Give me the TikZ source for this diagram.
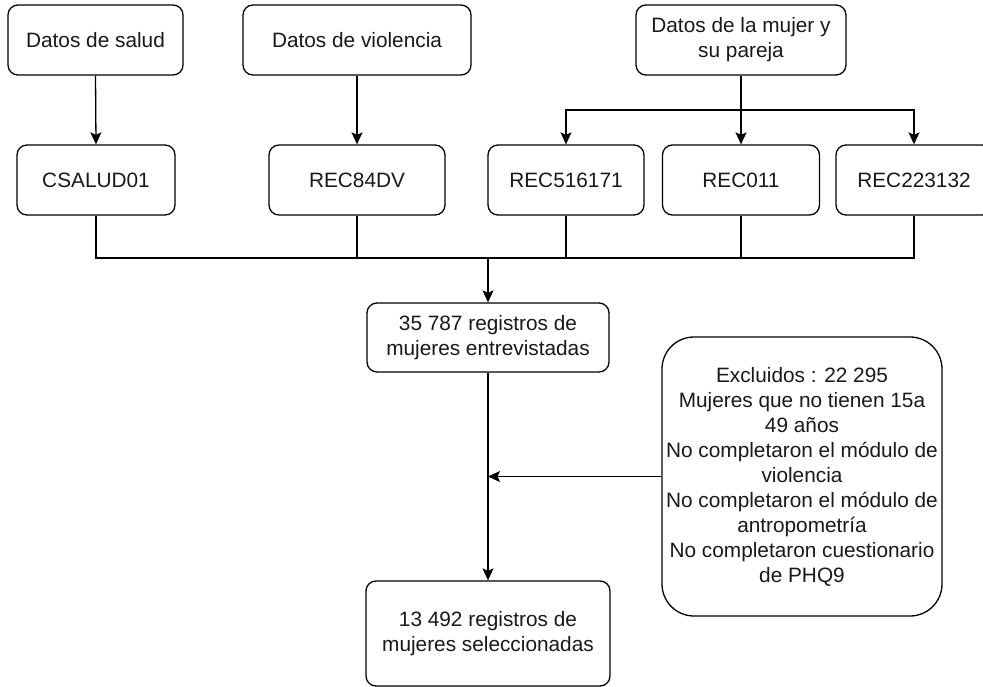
\documentclass[tikz,border=0pt]{standalone}
\usepackage{fontspec}
\setmainfont{Liberation Sans}
\usetikzlibrary{arrows.meta}
\begin{document}
\begin{tikzpicture}[x=1pt,y=-1pt,
  box/.style={draw=black, line width=1.3pt, rounded corners=10pt, align=center,
    inner sep=0pt, font=\fontsize{20.8}{25}\selectfont, text=black!90},
  bigbox/.style={box, rounded corners=32pt},
  link/.style={draw=black, line width=1.3pt},
  arr/.style={link, -{Stealth[length=12pt,width=11pt,inset=2.5pt]}}]
\useasboundingbox (0,0) rectangle (983,687);
\clip (0,0) rectangle (983,687);
\fill[white] (0,0) rectangle (983,687);
% top row
\node[box, minimum width=175pt, minimum height=70pt] (salud) at (95.5,40) {Datos de salud};
\node[box, minimum width=228pt, minimum height=70pt] (viol) at (357,40) {Datos de violencia};
\node[box, minimum width=210pt, minimum height=70pt] (mujer) at (741,40) {Datos de la mujer y\\su pareja};
% second row
\node[box, minimum width=158pt, minimum height=70pt] (csalud) at (96,180) {CSALUD01};
\node[box, minimum width=176pt, minimum height=70pt] (rec84) at (357,180) {REC84DV};
\node[box, minimum width=156pt, minimum height=70pt] (rec516) at (566,180) {REC516171};
\node[box, minimum width=157pt, minimum height=70pt] (rec011) at (741,180) {REC011};
\node[box, minimum width=156pt, minimum height=70pt] (rec223) at (914,180) {REC223132};
% lower boxes
\node[box, minimum width=242pt, minimum height=69pt] (reg35) at (488,337.5) {35 787 registros de\\mujeres entrevistadas};
\node[box, minimum width=244pt, minimum height=105pt] (reg13) at (488,633.5) {13 492 registros de\\mujeres seleccionadas};
\node[bigbox, minimum width=280pt, minimum height=279pt] (excl) at (802,476.5)
  {Excluidos : 22 295\\Mujeres que no tienen 15a\\49 años\\No completaron el módulo de\\violencia\\No completaron el módulo de\\antropometría\\No completaron cuestionario\\de PHQ9};
% connectors top
\draw[arr] (salud.south) -- (csalud.north);
\draw[arr] (viol.south) -- (rec84.north);
\coordinate (m) at (741,110);
\draw[arr] (mujer.south) -- (rec011.north);
\draw[arr] (m) -| (rec516.north);
\draw[arr] (m) -| (rec223.north);
% merge
\coordinate (j) at (488,258);
\draw[link] (csalud.south) |- (rec223.south |- j) -- (rec223.south);
\draw[link] (rec84.south) -- (rec84.south |- j);
\draw[link] (rec516.south) -- (rec516.south |- j);
\draw[link] (rec011.south) -- (rec011.south |- j);
\draw[arr] (j) -- (reg35.north);
\draw[arr] (reg35.south) -- (reg13.north);
\draw[arr] (excl.west) -- (excl.west -| reg35.south);
\end{tikzpicture}
\end{document}
